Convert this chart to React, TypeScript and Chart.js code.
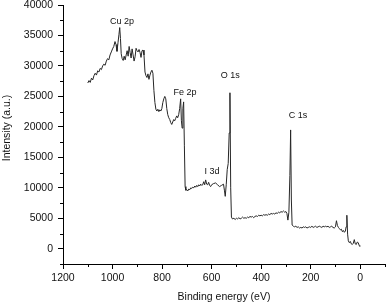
import React, { useEffect, useRef } from "react";
import { Chart, registerables } from "chart.js";

Chart.register(...registerables);

// Binding energy (eV)
const energies: number[] = [
  1100, 1095, 1090, 1085, 1080, 1075, 1070, 1065, 1060, 1055, 1050, 1045, 1040, 1035, 1030, 1025, 1020, 1015, 1010, 1005,
  1000, 995, 990, 986, 982, 978, 974, 971, 968, 965, 961, 957, 953, 949, 945, 941, 937, 933, 929, 925,
  921, 917, 913, 909, 905, 901, 897, 893, 889, 885, 881, 877, 873, 869, 865, 861, 857, 853, 849, 845,
  841, 837, 833, 829, 825, 821, 817, 813, 809, 805, 801, 797, 793, 789, 785, 781, 777, 773, 769, 765,
  761, 757, 753, 749, 745, 741, 737, 733, 729, 725, 722, 719, 716, 713, 710, 707, 704, 700, 696, 692,
  688, 684, 680, 676, 672, 668, 664, 660, 656, 652, 648, 644, 640, 636, 632, 628, 624, 620, 616, 612,
  608, 604, 600, 592, 584, 576, 568, 560, 552, 548, 545, 541, 537, 533, 529, 526, 523, 520, 516, 510,
  505, 500, 495, 490, 485, 480, 475, 470, 465, 460, 455, 450, 445, 440, 435, 430, 425, 420, 415, 410,
  405, 400, 395, 390, 385, 380, 375, 370, 365, 360, 355, 350, 345, 340, 335, 330, 325, 320, 315, 310,
  305, 300, 296, 292, 288, 284, 281, 278, 275, 270, 265, 260, 255, 250, 245, 240, 235, 230, 225, 220,
  215, 210, 205, 200, 195, 190, 185, 180, 175, 170, 165, 160, 155, 150, 145, 140, 135, 130, 125, 120,
  115, 110, 105, 100, 96, 92, 88, 84, 80, 76, 72, 68, 64, 60, 57, 54, 51, 48, 44, 40,
  36, 32, 28, 24, 20, 16, 12, 8, 4, 1,
];

// Intensity (a.u.)
const intensities: number[] = [
  27200, 27600, 27300, 28000, 27700, 28400, 28800, 28500, 29200, 29000, 29600, 29400, 30000, 30300, 30100, 30800, 31200, 31000, 31800, 32300,
  32800, 33200, 34000, 33500, 32400, 33800, 35200, 36300, 34500, 32000, 31200, 30900, 31600, 31000, 31800, 32500, 31600, 33200, 32200, 31300,
  32800, 31800, 30800, 31500, 32900, 32500, 32300, 32700, 32200, 31400, 32500, 32600, 31800, 29000, 28400, 28100, 28700, 27800, 28500, 29000,
  29300, 28800, 26000, 24000, 22900, 22600, 22900, 22500, 22800, 22600, 23000, 24000, 24600, 25000, 24600, 23000, 22000, 21500, 21200, 20700,
  20400, 20800, 21200, 21000, 21400, 21800, 21500, 22000, 23000, 24600, 21000, 19800, 23000, 24100, 17000, 10200, 9600, 9700, 9500, 9800,
  9700, 10000, 9900, 10100, 10000, 10300, 10100, 10400, 10200, 10500, 10300, 10600, 10400, 10500, 11000, 10500, 11300, 10600, 10500, 10900,
  10400, 10200, 10500, 10700, 10800, 10500, 10200, 10400, 10600, 9500, 8600, 10500, 13000, 14000, 19000, 25600, 10000, 5200, 4900, 5000,
  4800, 5000, 4900, 5100, 4900, 5000, 5200, 5000, 5100, 5000, 5200, 5100, 5300, 5200, 5300, 5100, 5300, 5400, 5300, 5500,
  5400, 5500, 5400, 5600, 5500, 5600, 5500, 5700, 5600, 5800, 5700, 5800, 5700, 5900, 5800, 6000, 5900, 6100, 6000, 6200,
  6000, 6100, 5800, 4700, 6000, 12000, 19500, 8000, 3900, 3700, 3600, 3700, 3500, 3600, 3400, 3500, 3400, 3600, 3500, 3600,
  3400, 3500, 3600, 3500, 3700, 3500, 3600, 3700, 3500, 3600, 3700, 3600, 3500, 3700, 3600, 3700, 3600, 3700, 3500, 3600,
  3700, 3500, 3400, 3600, 4600, 3800, 3500, 3300, 3100, 3200, 2800, 3000, 2700, 2900, 3600, 5500, 2400, 1300, 1000, 1200,
  800, 700, 900, 1500, 800, 700, 1100, 1000, 500, 400,
];

// Peak labels
const peakLabels: string[] = ["Cu 2p", "Fe 2p", "I 3d", "O 1s", "C 1s"];
const peakLabelX: number[] = [962, 707, 598, 525, 251];
const peakLabelY: number[] = [37250, 25650, 12600, 28430, 21900];

const xTickValues: number[] = [1200, 1000, 800, 600, 400, 200, 0];
const yTickValues: number[] = [0, 5000, 10000, 15000, 20000, 25000, 30000, 35000, 40000];

const FONT = "'Liberation Sans', Arial, sans-serif";

const extrasPlugin = {
  id: "extras",
  afterDraw(chart: any) {
    const ctx = chart.ctx;
    const xs = chart.scales.x;
    const ys = chart.scales.y;
    const area = chart.chartArea;
    ctx.save();
    ctx.strokeStyle = "#000";
    ctx.lineWidth = 1;
    // minor ticks
    for (let v = -100; v <= 1200; v += 100) {
      if (v % 200 === 0) continue;
      const px = Math.round(xs.getPixelForValue(v)) + 0.5;
      ctx.beginPath();
      ctx.moveTo(px, area.bottom);
      ctx.lineTo(px, area.bottom + 3);
      ctx.stroke();
    }
    for (let v = -2500; v <= 40000; v += 5000) {
      const py = Math.round(ys.getPixelForValue(v)) + 0.5;
      ctx.beginPath();
      ctx.moveTo(area.left - 3, py);
      ctx.lineTo(area.left, py);
      ctx.stroke();
    }
    // peak labels
    ctx.fillStyle = "#111";
    ctx.font = `9px ${FONT}`;
    ctx.textAlign = "center";
    ctx.textBaseline = "middle";
    peakLabels.forEach((t, i) => {
      ctx.fillText(t, xs.getPixelForValue(peakLabelX[i]), ys.getPixelForValue(peakLabelY[i]));
    });
    // y title
    ctx.save();
    ctx.font = `10.5px ${FONT}`;
    ctx.translate(7, 128);
    ctx.rotate(-Math.PI / 2);
    ctx.fillText("Intensity (a.u.)", 0, 0);
    ctx.restore();
    ctx.restore();
  },
};

export default function App() {
  const ref = useRef<HTMLCanvasElement | null>(null);
  useEffect(() => {
    if (!ref.current) return;
    const data = energies.map((e, i) => ({ x: e, y: intensities[i] }));
    const chart = new Chart(ref.current, {
      type: "line",
      data: {
        datasets: [
          {
            data,
            borderColor: "#262626",
            borderWidth: 1,
            pointRadius: 0,
            tension: 0,
            fill: false,
          },
        ],
      },
      options: {
        animation: false,
        responsive: true,
        maintainAspectRatio: false,
        layout: { padding: { top: 0, right: 2, left: 0, bottom: 0 } },
        plugins: { legend: { display: false }, tooltip: { enabled: false } },
        scales: {
          x: {
            type: "linear",
            reverse: true,
            min: -100,
            max: 1200,
            afterBuildTicks: (axis: any) => {
              axis.ticks = xTickValues.map((v) => ({ value: v }));
            },
            afterFit: (scale: any) => {
              scale.height = 40;
            },
            grid: { drawOnChartArea: false, tickLength: 5, color: "#000" },
            border: { color: "#000", width: 1 },
            ticks: {
              color: "#111",
              font: { family: FONT, size: 10.5 },
              padding: 3,
              maxRotation: 0,
              callback: (v: any) => String(v),
            },
            title: {
              display: true,
              text: "Binding energy (eV)",
              color: "#111",
              font: { family: FONT, size: 10.5 },
              padding: { top: 0, bottom: 1 },
            },
          },
          y: {
            min: -2500,
            max: 40000,
            afterBuildTicks: (axis: any) => {
              axis.ticks = yTickValues.map((v) => ({ value: v }));
            },
            afterFit: (scale: any) => {
              scale.width = 63;
              scale.paddingTop = 5;
              scale.paddingBottom = 0;
            },
            grid: { drawOnChartArea: false, tickLength: 5, color: "#000" },
            border: { color: "#000", width: 1 },
            ticks: {
              color: "#111",
              font: { family: FONT, size: 10.5 },
              padding: 5,
              callback: (v: any) => String(v),
            },
          },
        },
      },
      plugins: [extrasPlugin],
    });
    return () => chart.destroy();
  }, []);
  return (
    <div style={{ position: "fixed", left: 0, top: 0, width: 387, height: 304, background: "#fff" }}>
      <canvas ref={ref} />
    </div>
  );
}
